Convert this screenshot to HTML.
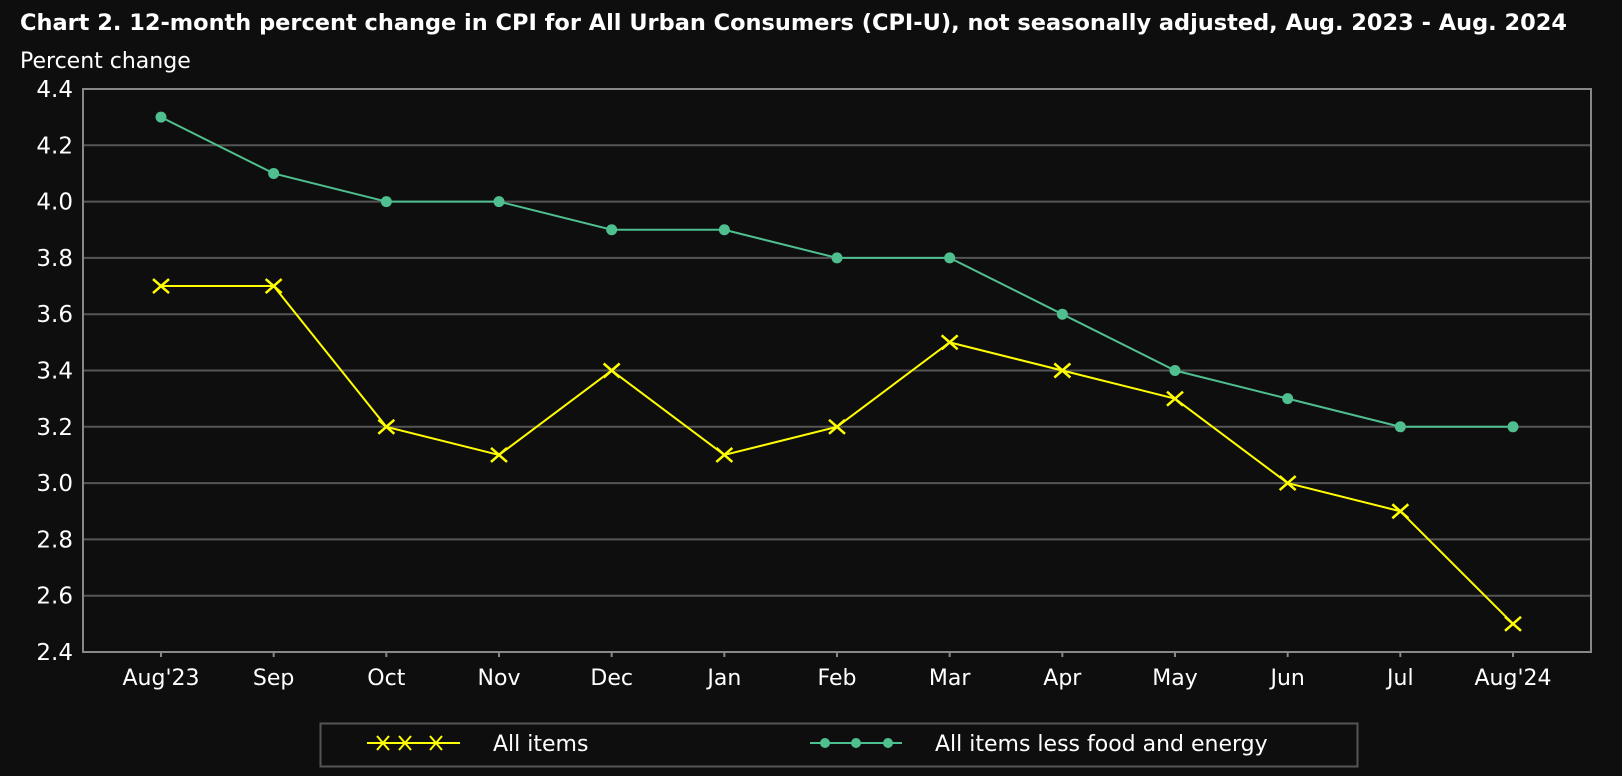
<!DOCTYPE html>
<html><head><meta charset="utf-8"><style>
html,body{margin:0;padding:0;background:#0e0e0e;}
svg{display:block;font-family:"DejaVu Sans","Liberation Sans",sans-serif;}
</style></head><body>
<svg id="chart" width="1622" height="776">
<rect width="1622" height="776" fill="#0e0e0e"/>
<text x="20" y="30" fill="#fff" font-size="22" font-weight="bold" textLength="1547" lengthAdjust="spacingAndGlyphs">Chart 2. 12-month percent change in CPI for All Urban Consumers (CPI-U), not seasonally adjusted, Aug. 2023 - Aug. 2024</text>
<text x="20" y="68" fill="#fff" font-size="22">Percent change</text>
<g id="grid"></g><g id="axes"></g><g id="series"></g>
<g>
<rect x="320.5" y="723.5" width="1037" height="43" fill="none" stroke="#555" stroke-width="2"/>
<g>
<line x1="367" y1="743" x2="460" y2="743" stroke="#ffff00" stroke-width="2"/>
<path d="M377,736l12,14M389,736l-12,14M399,736l12,14M411,736l-12,14M430,736l12,14M442,736l-12,14" stroke="#ffff00" stroke-width="2"/>
<text x="493" y="751" fill="#fff" font-size="22">All items</text>
</g>
<g>
<line x1="810" y1="743" x2="902" y2="743" stroke="#4fbf8f" stroke-width="2"/>
<circle cx="825" cy="743" r="5" fill="#4fbf8f"/><circle cx="856" cy="743" r="5" fill="#4fbf8f"/><circle cx="888" cy="743" r="5" fill="#4fbf8f"/>
<text x="935" y="751" fill="#fff" font-size="22">All items less food and energy</text>
</g>
</g>
</svg>
<script>
const categories=["Aug'23","Sep","Oct","Nov","Dec","Jan","Feb","Mar","Apr","May","Jun","Jul","Aug'24"];
const allItems=[3.7,3.7,3.2,3.1,3.4,3.1,3.2,3.5,3.4,3.3,3.0,2.9,2.5];
const coreItems=[4.3,4.1,4.0,4.0,3.9,3.9,3.8,3.8,3.6,3.4,3.3,3.2,3.2];
const yTicks=["2.4","2.6","2.8","3.0","3.2","3.4","3.6","3.8","4.0","4.2","4.4"];
const NS="http://www.w3.org/2000/svg";
const L=83,R=1591,T=89,B=652,ymin=2.4,ymax=4.4;
function x(i){return 161+i*(1513-161)/(categories.length-1);}
function y(v){return B-(v-ymin)/(ymax-ymin)*(B-T);}
function mk(tag,attrs,parent){const e=document.createElementNS(NS,tag);for(const k in attrs)e.setAttribute(k,attrs[k]);parent.appendChild(e);return e;}
const grid=document.getElementById('grid'),axes=document.getElementById('axes'),ser=document.getElementById('series');
yTicks.forEach(t=>{const v=parseFloat(t);const yy=y(v);
 if(v>ymin&&v<ymax){const g=mk('line',{x1:L,x2:R,y1:yy,y2:yy,stroke:'#555','stroke-width':2},grid);
 
 }
 const tx=mk('text',{x:73,y:yy+8,fill:'#fff','font-size':23,'text-anchor':'end'},axes);tx.textContent=t;
 
 
});
const box=mk('rect',{x:L,y:T,width:R-L,height:B-T,fill:'none',stroke:'#888','stroke-width':2},axes);


categories.forEach((c,i)=>{mk('line',{x1:x(i),x2:x(i),y1:B,y2:B+5,stroke:'#888','stroke-width':2},axes);
 const tx=mk('text',{x:x(i),y:B+33,fill:'#fff','font-size':22,'text-anchor':'middle'},axes);tx.textContent=c;
 
 
});
function line(vals,color){return mk('polyline',{points:vals.map((v,i)=>x(i)+','+y(v)).join(' '),fill:'none',stroke:color,'stroke-width':2},ser);}
const lc=line(coreItems,'#4fbf8f');


coreItems.forEach((v,i)=>{const c=mk('circle',{cx:x(i),cy:y(v),r:5.5,fill:'#4fbf8f'},ser);
 
 });
const la=line(allItems,'#ffff00');


allItems.forEach((v,i)=>{const X=x(i),Y=y(v);const p=mk('path',{d:`M${X-8},${Y-7}L${X+8},${Y+7}M${X+8},${Y-7}L${X-8},${Y+7}`,stroke:'#ffff00','stroke-width':2.5},ser);
 
 });
</script>
</body></html>
